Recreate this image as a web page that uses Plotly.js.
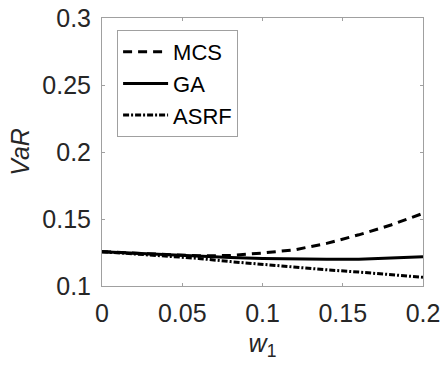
<!DOCTYPE html>
<html>
<head>
<meta charset="utf-8">
<script src="https://cdn.plot.ly/plotly-3.0.1.min.js"></script>
<style>html,body{margin:0;padding:0;background:#fff;}#chart{width:441px;height:366px;}</style>
</head>
<body>
<div id="chart"></div>
<script>
const w1 = [0, 0.02, 0.04, 0.06, 0.08, 0.10, 0.12, 0.14, 0.16, 0.18, 0.20];
const varMCS = [0.1256, 0.1245, 0.1232, 0.1225, 0.1228, 0.1246, 0.1270, 0.1318, 0.1382, 0.1455, 0.1542];
const varGA = [0.1256, 0.1245, 0.1232, 0.1222, 0.1212, 0.1205, 0.1200, 0.1199, 0.1200, 0.1210, 0.1218];
const varASRF = [0.1256, 0.1240, 0.1225, 0.1206, 0.1182, 0.1160, 0.1140, 0.1121, 0.1104, 0.1085, 0.1065];
const seriesNames = ['MCS', 'GA', 'ASRF'];
const xTicks = [0, 0.05, 0.1, 0.15, 0.2];
const xTickText = ['0', '0.05', '0.1', '0.15', '0.2'];
const yTicks = [0.1, 0.15, 0.2, 0.25, 0.3];
const yTickText = ['0.1', '0.15', '0.2', '0.25', '0.3'];

const fam = 'Liberation Sans, Arial, sans-serif';
const font = {family: fam, size: 25, color: '#262626'};
const traces = [
  {x: w1, y: varMCS, name: seriesNames[0], mode: 'lines', line: {color: '#000', width: 3, dash: '9px,6px'}},
  {x: w1, y: varGA, name: seriesNames[1], mode: 'lines', line: {color: '#000', width: 3, dash: 'solid'}},
  {x: w1, y: varASRF, name: seriesNames[2], mode: 'lines', line: {color: '#000', width: 3, dash: '6px,2px,2px,2px'}}
];
const axisCommon = {
  showline: true, linecolor: '#a0a0a0', linewidth: 1, mirror: 'ticks',
  ticks: 'inside', ticklen: 3, tickcolor: '#a0a0a0', tickwidth: 1,
  showgrid: false, zeroline: false, tickfont: font
};
const layout = {
  width: 441, height: 366,
  margin: {l: 102, r: 18, t: 18, b: 80},
  paper_bgcolor: '#fff', plot_bgcolor: '#fff',
  font: font,
  showlegend: true,
  legend: {x: 0.047, y: 0.955, xanchor: 'left', yanchor: 'top', bordercolor: '#a0a0a0', borderwidth: 1,
           bgcolor: '#fff', font: {family: fam, size: 22, color: '#000'}, tracegroupgap: 0, itemwidth: 45},
  xaxis: Object.assign({}, axisCommon, {automargin: 'bottom', range: [0, 0.2], tickvals: xTicks, ticktext: xTickText, ticklabelstandoff: 5,
          title: {text: '<i>w</i><sub>1</sub>', font: font, standoff: 8}}),
  yaxis: Object.assign({}, axisCommon, {automargin: 'left', range: [0.1, 0.3], tickvals: yTicks, ticktext: yTickText, ticklabelstandoff: 5,
          title: {text: '<i>VaR</i>', font: font, standoff: 5}})
};
Plotly.newPlot('chart', traces, layout, {displayModeBar: false, staticPlot: true});
</script>
</body>
</html>
